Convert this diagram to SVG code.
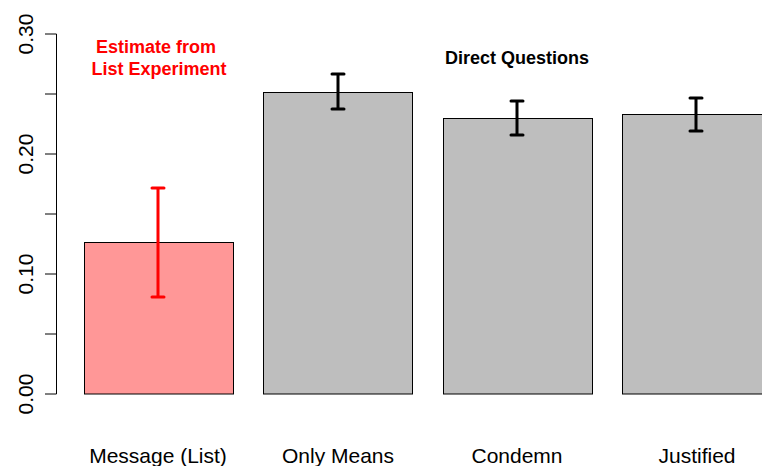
<svg xmlns="http://www.w3.org/2000/svg" width="762" height="466" viewBox="0 0 762 466">
<style>
.ax{stroke:#000;stroke-width:1;fill:none}
.tl{font-family:"Liberation Sans",Arial,sans-serif;font-size:21px;text-anchor:middle;fill:#000}
.bar{stroke:#000;stroke-width:1}
.eb{stroke-width:3;fill:none;stroke-linecap:round}
.lab{font-family:"Liberation Sans",Arial,sans-serif;font-size:18px;font-weight:bold;text-anchor:middle}
</style>
<rect width="762" height="466" fill="#fff"/>
<g id="axis">
<path class="ax" d="M56.5,34V394M56.5,34H45M56.5,94H45M56.5,154H45M56.5,214H45M56.5,274H45M56.5,334H45M56.5,394H45"/>
<text class="tl" transform="translate(33,34) rotate(-90)">0.30</text>
<text class="tl" transform="translate(33,154) rotate(-90)">0.20</text>
<text class="tl" transform="translate(33,274) rotate(-90)">0.10</text>
<text class="tl" transform="translate(33,394) rotate(-90)">0.00</text>
</g>
<g id="bar-message">
<rect class="bar" x="84.5" y="242.5" width="149" height="151.5" fill="#FF9797"/>
<path class="eb" stroke="#FF0000" d="M158,188V297M152,188H164M152,297H164"/>
<text class="tl" x="158" y="463">Message (List)</text>
</g>
<g id="bar-onlymeans">
<rect class="bar" x="263.5" y="92.5" width="149" height="301.5" fill="#BEBEBE"/>
<path class="eb" stroke="#000" d="M338,74V109M332,74H344M332,109H344"/>
<text class="tl" x="338" y="463">Only Means</text>
</g>
<g id="bar-condemn">
<rect class="bar" x="443.5" y="118.5" width="149" height="275.5" fill="#BEBEBE"/>
<path class="eb" stroke="#000" d="M517,101V135M511,101H523M511,135H523"/>
<text class="tl" x="517" y="463">Condemn</text>
</g>
<g id="bar-justified">
<rect class="bar" x="622.5" y="114.5" width="149" height="279.5" fill="#BEBEBE"/>
<path class="eb" stroke="#000" d="M696,98V131M690,98H702M690,131H702"/>
<text class="tl" x="697" y="463">Justified</text>
</g>
<g id="annotations">
<text class="lab" fill="#FF0000" x="156" y="53">Estimate from</text>
<text class="lab" fill="#FF0000" x="159" y="75">List Experiment</text>
<text class="lab" fill="#000" x="517" y="64">Direct Questions</text>
</g>
</svg>
